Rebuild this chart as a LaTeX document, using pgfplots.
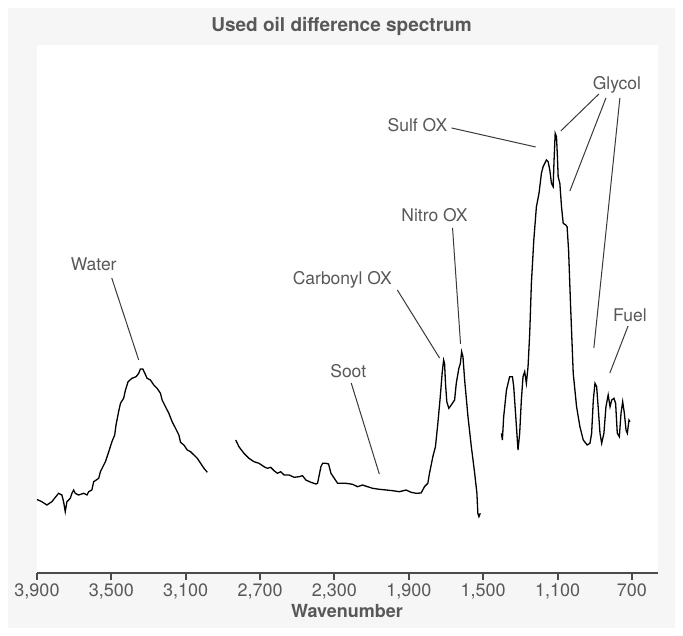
\documentclass[border=0pt]{standalone}
\usepackage{fontspec}
\setmainfont{TeX Gyre Heros}
\usepackage{pgfplots}
\pgfplotsset{compat=1.18}
\definecolor{panel}{HTML}{F6F6F6}
\definecolor{txt}{HTML}{585858}
\definecolor{axisc}{HTML}{4A4A4A}
\definecolor{lead}{HTML}{3A3A3A}
\begin{document}
\begin{tikzpicture}[x=1bp,y=1bp]
\fill[white] (0,0) rectangle (683,636);
\fill[panel] (8,8) rectangle (675,628);
\fill[white] (37,63) rectangle (658,591);
\node[txt, font=\fontsize{19bp}{22bp}\selectfont\bfseries] at (341.5,609) {Used oil difference spectrum};
\node[txt, font=\fontsize{18bp}{21bp}\selectfont\bfseries] at (347,25) {Wavenumber};
\begin{axis}[
    at={(37bp,63bp)}, anchor=south west,
    scale only axis, width=621bp, height=528bp,
    x dir=reverse, xmin=560, xmax=3900, ymin=0, ymax=528,
    axis x line*=bottom, axis y line=none,
    x axis line style={axisc, line width=2bp},
    xtick={3900,3500,3100,2700,2300,1900,1500,1100,700},
    xticklabels={{3,900},{3,500},{3,100},{2,700},{2,300},{1,900},{1,500},{1,100},{700}},
    tick align=outside, major tick length=7bp,
    tick style={axisc, line width=2bp},
    xticklabel style={txt, font=\fontsize{18bp}{21bp}\selectfont},
    clip=false,
]
% water band
\addplot[black, line width=1.3bp] coordinates {
(3900,73.5) (3874,71.3) (3847,68) (3820,71.3) (3784,79.7) (3766,78) (3757,71.3)
(3748,61.3) (3739,71.3) (3721,74.7) (3712,79.7) (3703,83) (3694,79.7) (3676,78)
(3649,79.7) (3631,78) (3622,81.3) (3605,83) (3595,91.3) (3568,94.7) (3559,101.3)
(3532,111.3) (3514,121.3) (3497,131.3) (3482,138) (3475,148) (3461,161.3)
(3451,169.7) (3434,174.7) (3424,183) (3410,191.3) (3389,194.7) (3367,196.3)
(3353,199.7) (3344,204) (3331,204) (3320,199.7) (3308,194.7) (3290,193)
(3272,188) (3254,184.7) (3236,179.7) (3227,173) (3209,166.3) (3191,159.7)
(3173,151.3) (3155,144.7) (3137,138) (3128,130.7) (3110,128) (3092,123)
(3074,121.3) (3056,118) (3038,114.7) (3020,109.7) (3002,104.7) (2984,100.7)
};
% 2830-1515
\addplot[black, line width=1.3bp] coordinates {
(2831,133) (2814,126.3) (2787,119.7) (2760,114.7) (2733,111.3) (2706,109.7)
(2679,106.3) (2661,104.7) (2643,105.7) (2625,102.3) (2607,99.7) (2589,101.3)
(2571,98) (2544,98) (2517,95.7) (2490,96.3) (2472,97.3) (2454,93) (2427,90.7)
(2400,89) (2391,89.7) (2373,106.3) (2364,109.7) (2346,109.7) (2332,109)
(2319,99.7) (2301,94.7) (2283,89.7) (2256,89.7) (2238,89.7) (2203,88.7)
(2176,86.3) (2149,88) (2122,86.3) (2095,84.7) (2059,83.7) (2022,83) (1987,82.3)
(1951,81.3) (1915,83) (1888,80.7) (1861,79.7) (1834,80) (1816,86.3) (1798,89.7)
(1789,99.7) (1771,116.3) (1757,126.3) (1744,149.7) (1731,176.3) (1721,199.7)
(1713,213) (1708,209.7) (1703,189.7) (1696,171.3) (1685,164.7) (1672,168)
(1654,173) (1645,189.7) (1631,204.7) (1623,209.7) (1616,221.3) (1609,216.3)
(1600,193) (1582,156.3) (1564,126.3) (1546,99.7) (1534,79.7) (1529,59.7)
(1523,56.3) (1516,59.7)
};
% fingerprint region
\addplot[black, line width=1.3bp] coordinates {
(1402,139.7) (1397,133) (1390,156.3) (1375,183) (1358,196.3) (1343,196.3)
(1336,186.3) (1325,156.3) (1313,123) (1304,139.7) (1295,173) (1286,196.3)
(1277,201.3) (1268,189.7) (1259,206.3) (1250,239.7) (1241,289.7) (1228,333)
(1214,366.3) (1200,379.7) (1187,399.7) (1178,406.3) (1160,413) (1151,411.3)
(1142,403) (1133,389.7) (1124,386.3) (1119,413) (1113,439.7) (1106,436.3)
(1101,416.3) (1097,396.3) (1088,389.7) (1079,366.3) (1070,349.7) (1056,348)
(1049,346.3) (1041,323) (1030,266.3) (1016,199.7) (998,166.3) (980,146.3)
(962,133) (941,128) (926,129.7) (917,139.7) (908,173) (899,189.7) (890,186.3)
(882,166.3) (872,139.7) (863,129.7) (851,139.7) (840,166.3) (828,178)
(818,166.3) (809,173) (797,174.7) (788,169.7) (779,139.7) (768,136.3)
(759,159.7) (750,171.3) (741,159.7) (732,143) (725,139.7) (716,153) (711,151.3)
};
% annotations
\begin{scope}[every node/.style={txt, font=\fontsize{17.5bp}{20bp}\selectfont}]
\node at (axis cs:3595,309) {Water};
\node at (axis cs:2226,202) {Soot};
\node at (axis cs:2258,293) {Carbonyl OX};
\node at (axis cs:1762,358) {Nitro OX};
\node at (axis cs:1854,448) {Sulf OX};
\node at (axis cs:781,488) {Glycol};
\node at (axis cs:711,258) {Fuel};
\end{scope}
\begin{scope}[lead, line width=1bp]
\draw (axis cs:3498,295) -- (axis cs:3353,213);
\draw (axis cs:2210,190) -- (axis cs:2059,99);
\draw (axis cs:1962,283) -- (axis cs:1735,215);
\draw (axis cs:1665,345) -- (axis cs:1622,229);
\draw (axis cs:1670,445) -- (axis cs:1218,426);
\draw (axis cs:878,479) -- (axis cs:1083,442);
\draw (axis cs:840,475) -- (axis cs:1034,382);
\draw (axis cs:765,475) -- (axis cs:905,225);
\draw (axis cs:721,247) -- (axis cs:819,200);
\end{scope}
\end{axis}
\end{tikzpicture}
\end{document}
